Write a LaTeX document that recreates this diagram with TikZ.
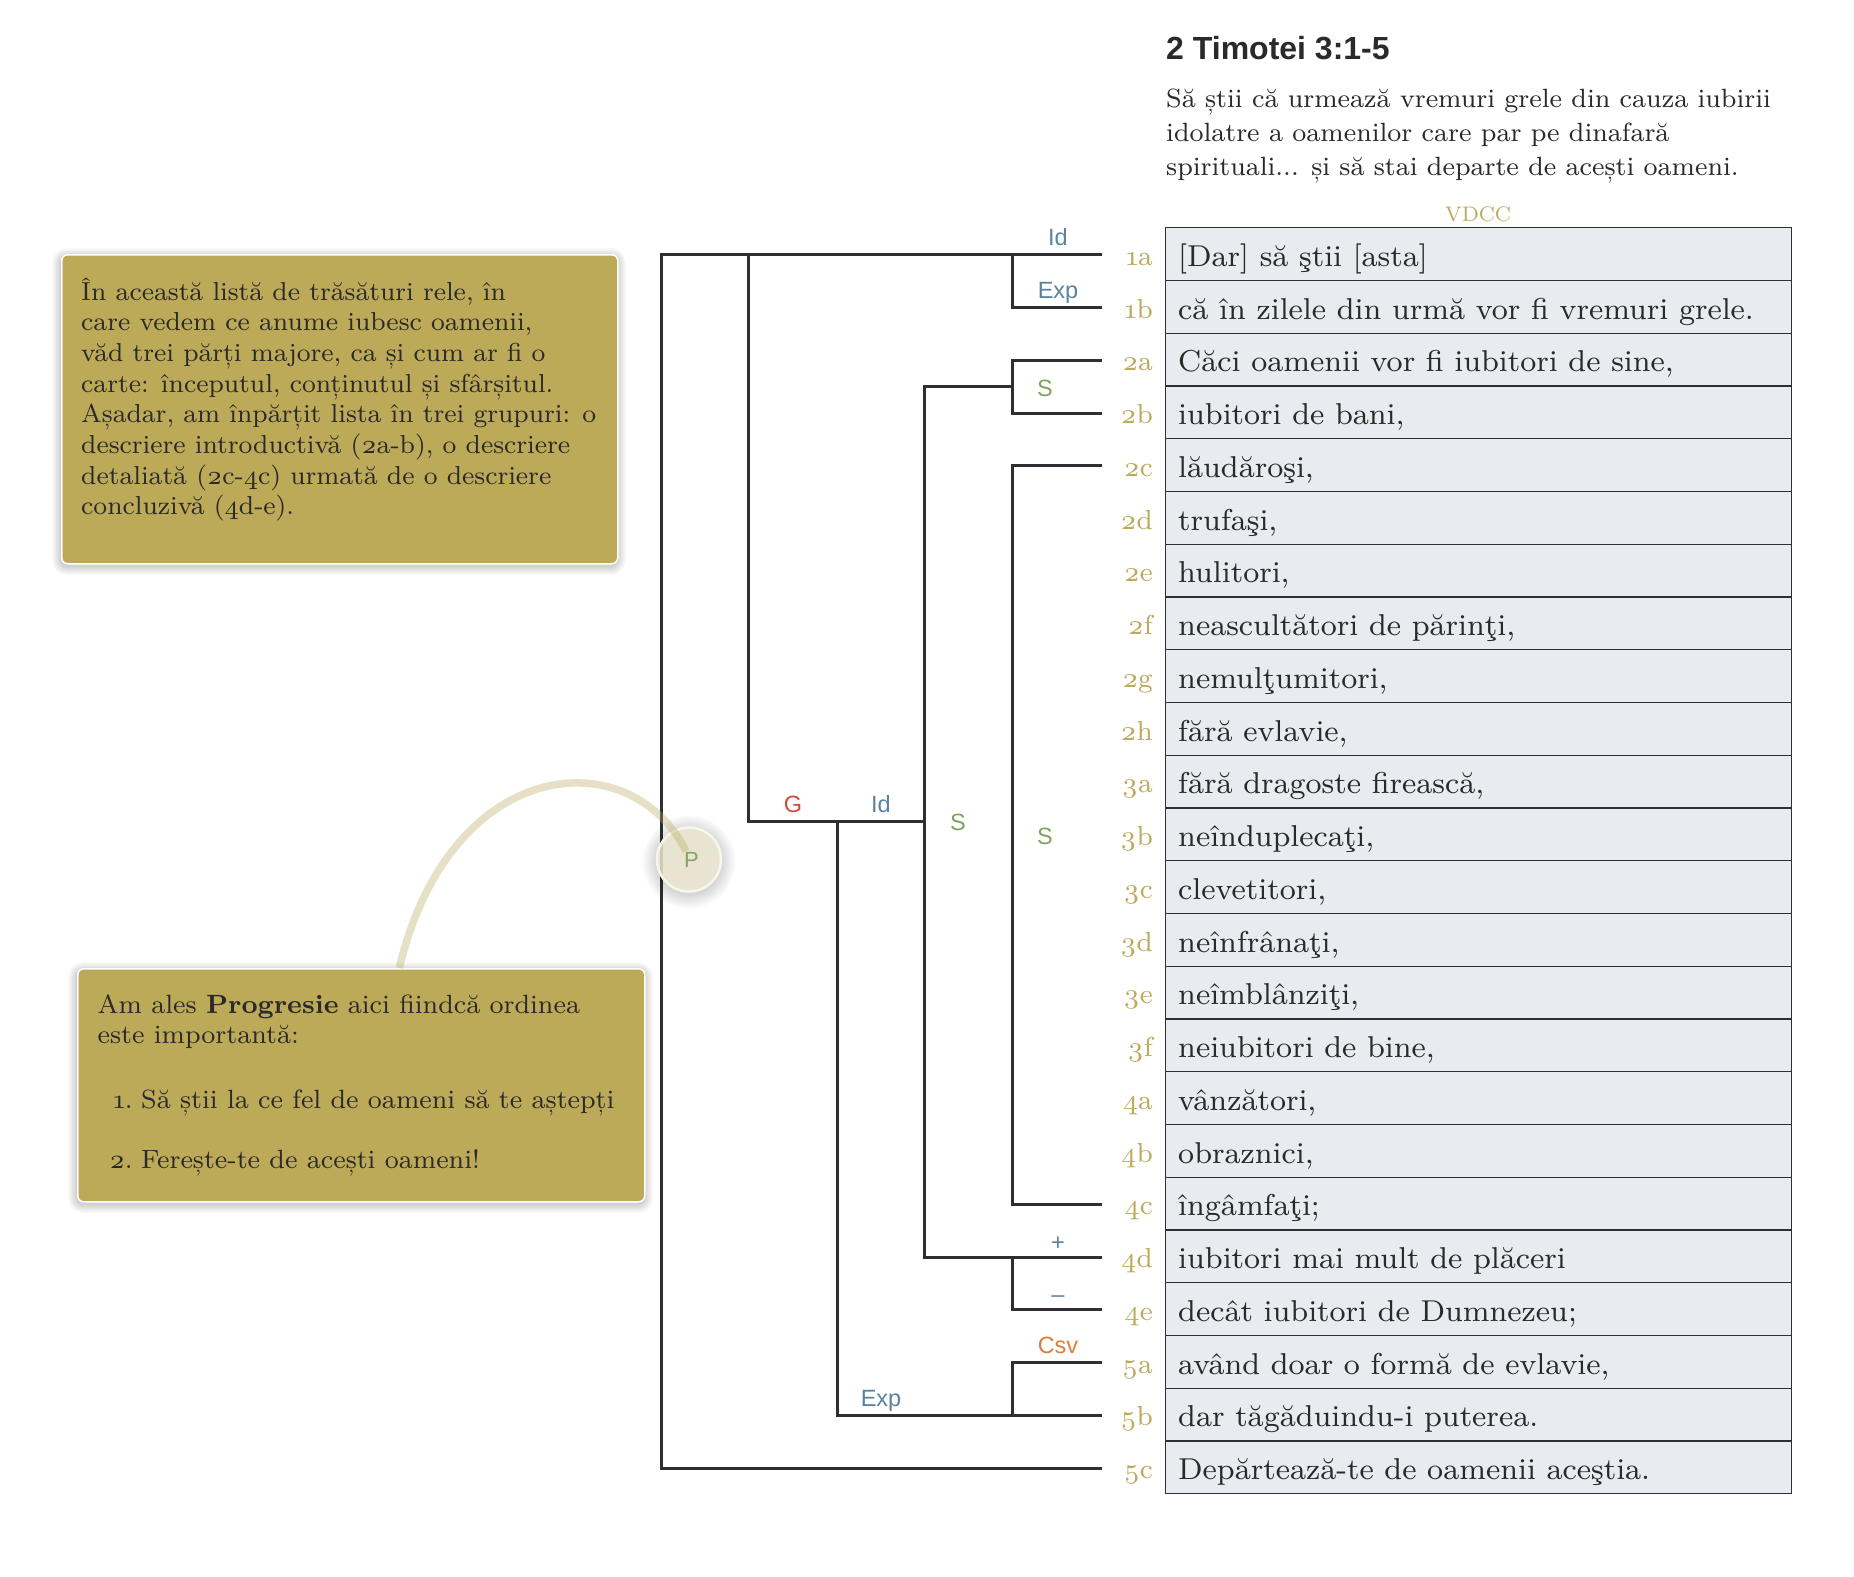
\documentclass[tikz,border=0pt]{standalone}
\usepackage{fontspec}
\setmainfont{lmroman8-regular.otf}[BoldFont=lmroman8-bold.otf,ItalicFont=lmroman8-italic.otf,Numbers=OldStyle]
\newfontfamily\sansf{Liberation Sans}
\definecolor{ink}{HTML}{2E2F33}
\definecolor{txt}{HTML}{2A2A2A}
\definecolor{gold}{HTML}{BDAA5C}
\definecolor{notefill}{HTML}{BDAA58}
\definecolor{rowfill}{HTML}{E8ECF0}
\definecolor{relblue}{HTML}{5B83A0}
\definecolor{relgreen}{HTML}{7FA35F}
\definecolor{relred}{HTML}{CF4A3C}
\definecolor{relorange}{HTML}{DE7E3A}
\definecolor{pfill}{HTML}{ECE7D1}
\definecolor{pring}{HTML}{F7F5EC}
\definecolor{ptext}{HTML}{8AA262}
\definecolor{curvecol}{HTML}{B8A860}
\tikzset{
  tree/.style={draw=ink, line width=3pt, line join=miter},
  rowbox/.style={draw=ink, line width=1.4pt, fill=rowfill, rectangle, inner sep=0pt,
    minimum width=626pt, minimum height=52.75pt, anchor=north west},
  rowtext/.style={anchor=base west, inner sep=0pt, text=txt, font=\fontsize{30.2}{36}\selectfont},
  numlab/.style={anchor=base east, inner sep=0pt, text=gold, font=\fontsize{27.5}{32}\selectfont},
  rel/.style={anchor=base, inner sep=0pt, font=\sansf\fontsize{23.5}{28}\selectfont},
  midrel/.style={anchor=center, inner sep=0pt, font=\sansf\fontsize{23.5}{28}\selectfont},
  notebox/.style={draw=white, line width=1.5pt, fill=notefill, rounded corners=6pt,
    rectangle, inner sep=0pt, anchor=north west},
  notetext/.style={anchor=base west, inner sep=0pt, text=txt},
  annot/.style={draw=curvecol, draw opacity=0.35, line width=7.5pt, line cap=butt},
}
\begin{document}
\begin{tikzpicture}[x=1pt,y=-1pt]
\useasboundingbox (0,0) rectangle (1854,1576);
\fill[white] (0,0) rectangle (1854,1576);

% ---------- header ----------
\node[anchor=base west, inner sep=0pt, text=txt, font=\sansf\bfseries\fontsize{32}{38}\selectfont]
  (title) at (1166,59.3) {2 Timotei 3:1-5};
\node[anchor=base west, inner sep=0pt, text=txt] (intro) at (1166,108)
  {\parbox[t]{700pt}{\raggedright\fontsize{26.4}{33.5}\selectfont
  Să știi că urmează vremuri grele din cauza iubirii\\
  idolatre a oamenilor care par pe dinafară\\
  spirituali... și să stai departe de acești oameni.}};
\node[anchor=base, inner sep=0pt, text=gold, font=\fontsize{21}{26}\selectfont]
  (vdcc) at (1478,221.5) {VDCC};

% ---------- table rows ----------
\foreach \lab/\txt [count=\i from 0] in {
  1a/{[Dar] să ştii [asta]},
  1b/{că în zilele din urmă vor fi vremuri grele.},
  2a/{Căci oamenii vor fi iubitori de sine,},
  2b/{iubitori de bani,},
  2c/{lăudăroşi,},
  2d/{trufaşi,},
  2e/{hulitori,},
  2f/{neascultători de părinţi,},
  2g/{nemulţumitori,},
  2h/{fără evlavie,},
  3a/{fără dragoste firească,},
  3b/{neînduplecaţi,},
  3c/{clevetitori,},
  3d/{neînfrânaţi,},
  3e/{neîmblânziţi,},
  3f/{neiubitori de bine,},
  4a/{vânzători,},
  4b/{obraznici,},
  4c/{îngâmfaţi;},
  4d/{iubitori mai mult de plăceri},
  4e/{decât iubitori de Dumnezeu;},
  5a/{având doar o formă de evlavie,},
  5b/{dar tăgăduindu-i puterea.},
  5c/{Depărtează-te de oamenii aceştia.}}{
  \node[rowbox] (row-\lab) at (1165,{227+52.75*\i}) {};
  \node[rowtext] (txt-\lab) at (1178,{266.4+52.75*\i}) {\txt};
  \node[numlab] (num-\lab) at (1153,{265.4+52.75*\i}) {\lab};
  \coordinate (e-\lab) at (1102,{254.9+52.75*\i});
}

% ---------- bracket levels ----------
\coordinate (xR) at (661,0);
\coordinate (xA) at (748,0);
\coordinate (xC) at (837,0);
\coordinate (xD) at (924,0);
\coordinate (xL) at (1012,0);
\coordinate (jG) at (748,821);
\coordinate (jD) at (924,821);
\coordinate (jF) at (1012,386.75);

% root
\draw[tree] (e-1a) -- (e-1a -| xR) |- (e-5c);
% A (G)
\draw[tree] (e-1a -| xA) -- (jG) -- (jD);
% B (Id / Exp)
\draw[tree] (e-1a -| xL) |- (e-1b);
% C (Id / Exp)
\draw[tree] (xC |- jG) |- (e-5b);
% J (Csv)
\draw[tree] (e-5b -| xL) |- (e-5a);
% D (S)
\draw[tree] (jF) -- (xD |- jF) |- (e-4d);
% F (S)
\draw[tree] (e-2a) -| (e-2b -| xL) -- (e-2b);
% H (S)
\draw[tree] (e-2c) -| (e-4c -| xL) -- (e-4c);
% I (+ / -)
\draw[tree] (e-4d -| xL) |- (e-4e);

% ---------- relation labels ----------
\node[rel, text=relblue] (r-id1) at (1058,245.9) {Id};
\node[rel, text=relblue] (r-exp1) at (1058,298.6) {Exp};
\node[midrel, text=relgreen] (r-s1) at (1045,388) {S};
\node[rel, text=relred] (r-g) at (793,812) {G};
\node[rel, text=relblue] (r-id2) at (881,812) {Id};
\node[midrel, text=relgreen] (r-s2) at (958,822) {S};
\node[midrel, text=relgreen] (r-s3) at (1045,836) {S};
\node[rel, text=relblue] (r-plus) at (1058,1250) {+};
\node[rel, text=relblue] (r-minus) at (1058,1302) {–};
\node[rel, text=relorange] (r-csv) at (1058,1353.6) {Csv};
\node[rel, text=relblue] (r-exp2) at (881,1406.4) {Exp};

% ---------- note 1 ----------
\foreach \k in {1,...,9}
  \fill[black, opacity=0.018, rounded corners={6+\k}] ({61-\k},{257-\k}) rectangle ({617+\k},{566+\k});
\node[notebox, minimum width=556pt, minimum height=309pt] (note1) at (61,254) {};
\node[notetext] (note1txt) at (81,300)
  {\parbox[t]{600pt}{\raggedright\fontsize{26}{30.7}\selectfont
  În această listă de trăsături rele, în\\
  care vedem ce anume iubesc oamenii,\\
  văd trei părți majore, ca și cum ar fi o\\
  carte: începutul, conținutul și sfârșitul.\\
  Așadar, am înpărțit lista în trei grupuri: o\\
  descriere introductivă (2a-b), o descriere\\
  detaliată (2c-4c) urmată de o descriere\\
  concluzivă (4d-e).}};

% ---------- note 2 ----------
\foreach \k in {1,...,9}
  \fill[black, opacity=0.018, rounded corners={6+\k}] ({77-\k},{971-\k}) rectangle ({644+\k},{1204+\k});
\node[notebox, minimum width=567pt, minimum height=233pt] (note2) at (77,968) {};
\node[notetext] (note2txt) at (97.5,1013)
  {\parbox[t]{600pt}{\raggedright\fontsize{26.4}{30.5}\selectfont
  Am ales \textbf{Progresie} aici fiindcă ordinea\\
  este importantă:\\[34pt]
  \makebox[35pt][r]{1.}\hspace{8.5pt}Să știi la ce fel de oameni să te aștepți\\[30pt]
  \makebox[35pt][r]{2.}\hspace{8.5pt}Ferește-te de acești oameni!}};

% ---------- P marker ----------
\foreach \k in {1,...,8}
  \fill[black, opacity=0.018] (689,862) circle ({32+1.8*\k});
\node[circle, minimum size=64pt, inner sep=0pt, fill=pfill, fill opacity=0.85,
  draw=pring, line width=2.5pt, text opacity=1, text=ptext,
  font=\sansf\fontsize{22}{26}\selectfont] (P) at (689,859.5) {\raisebox{-3pt}{\hspace{5pt}P}};
\draw[annot] ([xshift=38pt]note2.north) .. controls (450,755) and (630,740) .. (686,851);
\end{tikzpicture}
\end{document}
